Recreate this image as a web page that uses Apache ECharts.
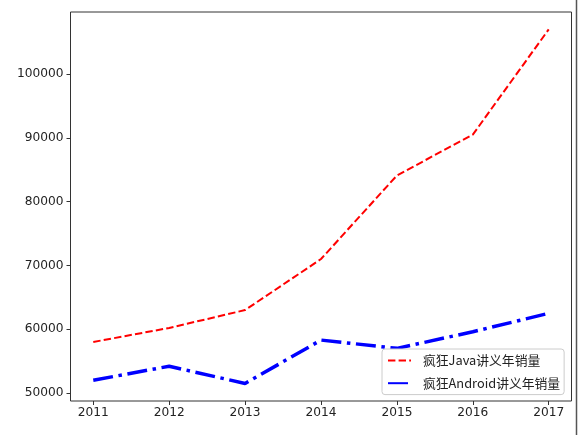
<!DOCTYPE html>
<html>
<head>
<meta charset="utf-8">
<script src="https://cdn.jsdelivr.net/npm/echarts@6/dist/echarts.min.js"></script>
<style>
html,body{margin:0;padding:0;background:#fff;}
#c{width:586px;height:435px;}
</style>
</head>
<body>
<div id="c"></div>
<script>
const years = [2011, 2012, 2013, 2014, 2015, 2016, 2017];
const javaSales = [58000, 60200, 63000, 71000, 84100, 90500, 107000];
const androidSales = [52000, 54200, 51500, 58300, 57000, 59600, 62500];
const yTicks = [50000, 60000, 70000, 80000, 90000, 100000];
const seriesNames = ['疯狂Java讲义年销量', '疯狂Android讲义年销量'];

const chart = echarts.init(document.getElementById('c'), null, {renderer: 'canvas'});
const font = 'DejaVu Sans';
chart.setOption({
  animation: false,
  backgroundColor: '#fff',
  grid: {left: 70.5, right: 14.5, top: 12, bottom: 34, show: true, borderColor: '#333', borderWidth: 1, backgroundColor: '#fff'},
  xAxis: {
    type: 'value', min: 2010.7, max: 2017.3,
    axisLine: {show: false},
    splitLine: {show: false},
    axisTick: {show: true, inside: false, length: 4, lineStyle: {color: '#333'}, customValues: years},
    axisLabel: {customValues: years, color: '#222', fontSize: 12.2, fontFamily: font, margin: 6, formatter: v => String(Math.round(v))}
  },
  yAxis: {
    type: 'value', min: 48750, max: 109720,
    axisLine: {show: false},
    splitLine: {show: false},
    axisTick: {show: true, length: 4, lineStyle: {color: '#333'}, customValues: yTicks},
    axisLabel: {customValues: yTicks, color: '#222', fontSize: 12.2, fontFamily: font, margin: 7, formatter: v => String(Math.round(v))}
  },
  legend: {
    orient: 'vertical', left: 382, top: 349,
    padding: [5, 4, 5, 5],
    itemWidth: 23, itemHeight: 10, itemGap: 10,
    backgroundColor: '#fff', borderColor: '#ccc', borderWidth: 1, borderRadius: 3,
    itemStyle: {opacity: 0},
    textStyle: {fontSize: 12.8, color: '#222', fontFamily: '"Noto Sans CJK SC", sans-serif', padding: [0, 0, 0, 7]},
    data: seriesNames
  },
  series: [
    {
      name: seriesNames[0], type: 'line', symbol: 'none',
      data: years.map((y, i) => [y, javaSales[i]]),
      lineStyle: {color: '#ff0000', width: 2, type: [7.4, 3.2]},
      itemStyle: {color: '#ff0000'}
    },
    {
      name: seriesNames[1], type: 'line', symbol: 'none',
      data: years.map((y, i) => [y, androidSales[i]]),
      lineStyle: {color: '#0000ff', width: 3.5, type: [20, 5.6, 3.5, 5.6]},
      itemStyle: {color: '#0000ff'}
    }
  ],
  graphic: [{
    type: 'line', shape: {x1: 576.5, y1: 0, x2: 576.5, y2: 435},
    style: {stroke: '#555', lineWidth: 1.5}
  }]
});
</script>
</body>
</html>
